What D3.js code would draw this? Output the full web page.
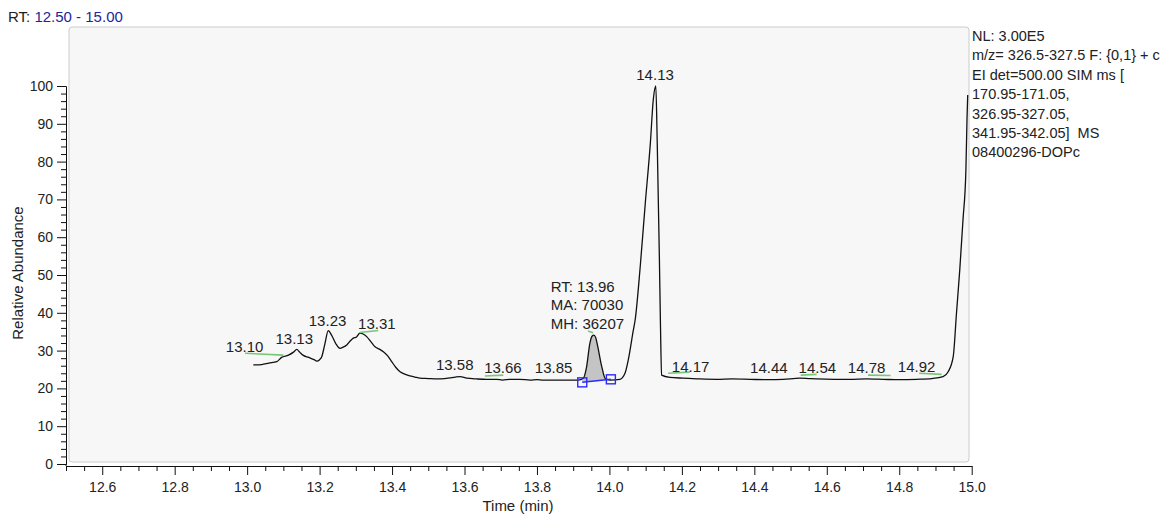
<!DOCTYPE html>
<html><head><meta charset="utf-8">
<script src="https://cdn.jsdelivr.net/npm/d3@7"></script>
<style>body{margin:0;background:#fff;} svg{display:block;font-family:"Liberation Sans",Arial,sans-serif;}</style>
</head><body><svg id="c" width="1176" height="518"></svg>
<script>
// ---- data ----
const traceTime = [13.017,13.040,13.060,13.082,13.095,13.114,13.128,13.137,13.145,13.154,13.170,13.185,13.192,13.200,13.206,13.214,13.224,13.233,13.245,13.256,13.265,13.275,13.285,13.293,13.302,13.311,13.320,13.330,13.342,13.353,13.365,13.376,13.388,13.399,13.410,13.422,13.435,13.449,13.463,13.477,13.500,13.523,13.545,13.560,13.575,13.588,13.606,13.634,13.661,13.689,13.705,13.725,13.753,13.781,13.800,13.817,13.845,13.882,13.914,13.928,13.937,13.946,13.952,13.957,13.962,13.966,13.979,13.988,14.002,14.029,14.043,14.052,14.066,14.071,14.085,14.099,14.113,14.121,14.128,14.132,14.138,14.141,14.144,14.167,14.204,14.250,14.296,14.340,14.388,14.440,14.480,14.526,14.550,14.572,14.620,14.664,14.710,14.756,14.800,14.848,14.890,14.921,14.935,14.949,14.958,14.967,14.976,14.984,14.987,14.989];
const traceAbund = [26.2,26.3,26.7,27.1,28.2,28.8,29.6,30.3,29.6,28.8,28.2,27.6,27.2,27.6,28.4,31.5,35.3,34.1,31.8,30.6,30.9,31.5,32.6,33.3,33.6,34.6,34.4,33.7,32.3,31.0,30.4,29.7,28.6,27.1,25.6,24.4,23.8,23.3,23.0,22.7,22.6,22.5,22.6,22.8,23.0,23.1,22.7,22.5,22.4,22.4,22.2,22.4,22.4,22.2,22.3,22.2,22.2,22.2,22.2,22.7,25.7,31.9,33.8,34.1,33.5,31.9,25.7,22.7,22.2,22.4,24.0,27.5,35.4,38.1,52.2,69.0,84.9,96.3,100,84.9,54.0,36.3,23.5,22.9,22.7,22.5,22.4,22.5,22.4,22.3,22.4,22.7,22.6,22.5,22.4,22.4,22.5,22.4,22.3,22.4,22.6,23.1,24.4,28.4,39.9,51.3,64.6,77.8,91.0,97.6];

const xTickValues = [12.6,12.8,13.0,13.2,13.4,13.6,13.8,14.0,14.2,14.4,14.6,14.8,15.0];
const xTickLabels = ["12.6","12.8","13.0","13.2","13.4","13.6","13.8","14.0","14.2","14.4","14.6","14.8","15.0"];
const yTickValues = [0,10,20,30,40,50,60,70,80,90,100];

const peakLabelText  = ["13.10","13.13","13.23","13.31","13.58","13.66","13.85","14.13","14.17","14.44","14.54","14.78","14.92"];
const peakLabelTime  = [12.993,13.130,13.222,13.358,13.573,13.706,13.846,14.126,14.224,14.440,14.574,14.710,14.848];
const peakLabelAbund = [29.7,31.7,36.5,35.7,24.9,24.1,24.1,101.6,24.4,24.0,24.0,24.1,24.3];

// green detection marks: [t1, v1, t2, v2]
const markT1 = [12.994,13.311,13.656,13.941,14.162,14.528,14.714,14.855];
const markV1 = [29.3,34.8,23.3,35.2,24.0,23.5,23.5,24.0];
const markT2 = [13.100,13.362,13.707,13.955,14.222,14.572,14.776,14.917];
const markV2 = [28.8,35.3,23.5,34.7,24.3,23.7,23.4,23.7];

// integrated peak
const integStart = [13.925, 21.6];
const integEnd   = [14.004, 22.4];
const infoLines = ["RT: 13.96","MA: 70030","MH: 36207"];
const infoAnchor = [13.838, 45.6];

const headerInfo = ["NL: 3.00E5","m/z= 326.5-327.5 F: {0,1} + c","EI det=500.00 SIM ms [","170.95-171.05,","326.95-327.05,","341.95-342.05]  MS","08400296-DOPc"];
const rangeLabel = "12.50 - 15.00";

// ---- drawing ----
const svg = d3.select("#c");
const x = d3.scaleLinear().domain([12.5, 15.0]).range([66, 971.7]);
const y = d3.scaleLinear().domain([0, 100]).range([464, 86]);

// plot box
svg.append("rect").attr("x",69).attr("y",27).attr("width",900).attr("height",435)
  .attr("rx",3).attr("fill","#f7f7f7").attr("stroke","#cccccc").attr("stroke-width",1);

// header
const hdr = svg.append("text").attr("x",8).attr("y",22).attr("font-size",15);
hdr.append("tspan").attr("fill","#222").text("RT: ");
hdr.append("tspan").attr("fill","#24249c").text(rangeLabel);

headerInfo.forEach((s,i)=>{
  svg.append("text").attr("x",972).attr("y",41+i*19.4).attr("font-size",14.5).attr("fill","#222")
    .style("white-space","pre").text(s);
});

// axes
const minorX = d3.range(0,51).map(i=>12.5+i*0.05).filter(v=>Math.abs(Math.round(v*5)/5 - v) > 1e-6 || v < 12.55);
const gx = svg.append("g").attr("transform","translate(0,466)");
gx.call(d3.axisBottom(x).tickValues(minorX).tickSize(5).tickSizeOuter(0).tickFormat(""));
gx.append("g").call(d3.axisBottom(x).tickValues(xTickValues).tickSize(9).tickSizeOuter(0).tickPadding(7)
   .tickFormat((d,i)=>xTickLabels[i]));
const minorY = d3.range(0,51).map(i=>i*2).filter(v=>v%10!==0);
const gy = svg.append("g").attr("transform","translate(66,0)");
gy.call(d3.axisLeft(y).tickValues(minorY).tickSize(5).tickSizeOuter(0).tickFormat(""));
gy.append("g").call(d3.axisLeft(y).tickValues(yTickValues).tickSize(9).tickSizeOuter(0).tickPadding(4));
svg.selectAll(".tick text").attr("font-size",14).attr("fill","#222").attr("font-family",'"Liberation Sans",Arial,sans-serif');
svg.selectAll(".domain, .tick line").attr("stroke","#111");
// y axis line down to x axis
svg.append("line").attr("x1",66).attr("x2",66).attr("y1",y(0)).attr("y2",466).attr("stroke","#111");

// axis titles
svg.append("text").attr("x",518).attr("y",511).attr("text-anchor","middle").attr("font-size",15).attr("fill","#222").text("Time (min)");
svg.append("text").attr("transform","translate(23,273) rotate(-90)").attr("text-anchor","middle").attr("font-size",15).attr("fill","#222").text("Relative Abundance");

// integrated area
const pts = traceTime.map((t,i)=>[t,traceAbund[i]]);
const interp = (t)=>{ for(let i=1;i<pts.length;i++){ if(pts[i][0]>=t){ const a=pts[i-1],b=pts[i]; return a[1]+(b[1]-a[1])*(t-a[0])/(b[0]-a[0]); } } return pts[pts.length-1][1]; };
const baseV = (t)=> integStart[1] + (integEnd[1]-integStart[1])*(t-integStart[0])/(integEnd[0]-integStart[0]);
const areaPts = [[integStart[0], interp(integStart[0])]].concat(pts.filter(p=>p[0]>integStart[0]&&p[0]<integEnd[0])).concat([[integEnd[0], interp(integEnd[0])]]);
svg.append("path").datum(areaPts)
  .attr("d", d3.area().x(d=>x(d[0])).y0(d=>y(baseV(d[0]))).y1(d=>y(Math.max(d[1],baseV(d[0])))))
  .attr("fill","#c4c4c4");

// trace
svg.append("path").datum(pts)
  .attr("d", d3.line().x(d=>x(d[0])).y(d=>y(d[1])).curve(d3.curveMonotoneX))
  .attr("fill","none").attr("stroke","#111").attr("stroke-width",1.3);

// green marks
markT1.forEach((t,i)=>{
  svg.append("line").attr("x1",x(t)).attr("y1",y(markV1[i])).attr("x2",x(markT2[i])).attr("y2",y(markV2[i]))
    .attr("stroke","#76c776").attr("stroke-width",1.6);
});

// integration baseline & squares
svg.append("line").attr("x1",x(integStart[0])).attr("y1",y(integStart[1])).attr("x2",x(integEnd[0])).attr("y2",y(integEnd[1]))
  .attr("stroke","#2a2aff").attr("stroke-width",1.5);
[integStart,integEnd].forEach(p=>{
  svg.append("rect").attr("x",x(p[0])-4.5).attr("y",y(p[1])-4.5).attr("width",9).attr("height",9)
    .attr("fill","none").attr("stroke","#2a2aff").attr("stroke-width",1.4);
});

// peak labels
peakLabelText.forEach((s,i)=>{
  svg.append("text").attr("x",x(peakLabelTime[i])).attr("y",y(peakLabelAbund[i])).attr("text-anchor","middle")
    .attr("font-size",15).attr("fill","#222").text(s);
});
infoLines.forEach((s,i)=>{
  svg.append("text").attr("x",x(infoAnchor[0])).attr("y",y(infoAnchor[1])+i*18.5).attr("font-size",15).attr("fill","#222").text(s);
});
</script></body></html>
